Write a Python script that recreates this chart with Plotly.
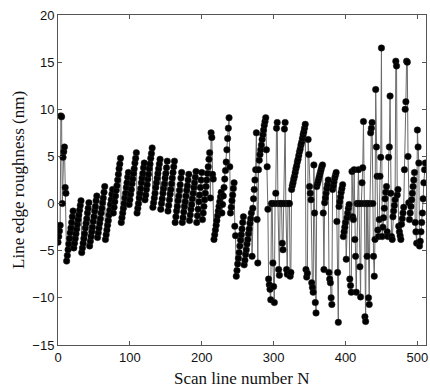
import plotly.graph_objects as go

# Scan line 0-11: initial jump region
seg_start = [-4.1, -3.5, -2.9, -2.3, 9.3, 9.2, 0.0, 4.9, 5.5, 6.0, 1.7, 1.1]

# Regular sawtooth ramps (scan lines 12-211)
ramps_a = [
    -6.1, -5.5, -4.9, -4.3, -3.7, -3.1, -2.6, -2.0, -1.4, -0.8,
    -4.7, -4.2, -3.7, -3.2, -2.7, -2.2, -1.7, -1.2, -0.7, -0.2, 0.3,
    -5.2, -4.7, -4.2, -3.7, -3.2, -2.6, -2.1, -1.6, -1.0, -0.5, 0.1,
    -4.5, -4.0, -3.5, -3.0, -2.5, -1.9, -1.4, -0.8, -0.3, 0.3, 0.8,
    -3.6, -3.1, -2.6, -2.1, -1.6, -1.0, -0.5, 0.1, 0.6, 1.2, 1.8,
    -3.8, -3.3, -2.8, -2.3, -1.8, -1.2, -0.7, -0.1, 0.4, 1.0, 1.5,
    -1.0, -0.4, 0.2, 0.8, 1.4, 1.9, 2.5, 3.1, 3.7, 4.2, 4.8,
    -2.0, -1.5, -1.0, -0.5, 0.0, 0.6, 1.1, 1.7, 2.2, 2.8, 3.3,
    -0.1, 0.4, 1.0, 1.5, 2.1, 2.6, 3.2, 3.7, 4.3, 4.8, 5.4,
    -1.0, -0.5, 0.0, 0.6, 1.1, 1.6, 2.2, 2.7, 3.2, 3.8, 4.3,
    0.4, 0.9, 1.5, 2.0, 2.6, 3.1, 3.7, 4.2, 4.8, 5.3, 5.9,
    -0.4, 0.1, 0.6, 1.1, 1.7, 2.2, 2.7, 3.2, 3.7, 4.2, 4.7,
    -0.6, 0.0, 0.5, 1.1, 1.6, 2.1, 2.7, 3.2, 3.8, 4.5,
    -0.8, -0.2, 0.4, 1.0, 1.5, 2.1, 2.7, 3.3, 3.9, 4.5,
    -2.0, -1.4, -0.8, -0.3, 0.3, 0.8, 1.4, 2.0, 2.7, 3.3,
    -2.0, -1.5, -0.9, -0.3, 0.2, 0.8, 1.4, 1.9, 2.5, 3.1,
    -1.8, -1.2, -0.6, -0.1, 0.5, 1.1, 1.7, 2.2, 2.8, 3.4,
    -2.0, -1.3, -0.6, 0.2, 0.9, 1.7, 2.5, 3.3,
    -1.7, -1.0, -0.3, 0.4, 1.1, 1.8, 2.5, 3.2, 3.9, 4.7, 5.4,
]

# Transition region (scan lines 212-296)
seg_mid = [
    0.6, 7.5, 7.0, 3.1, 2.6,
    -3.8, -3.3, -2.8, -2.3, -1.8, -1.3, -0.8, -0.3, 0.2, 0.7, 1.2,
    -1.0, -0.1, 0.8, 1.7, 2.6, 3.5, 4.4, 5.7, 6.9, 8.0, 9.1,
    3.9,
    -1.0, -0.4, 0.3, 0.9, 1.6, 2.2,
    -2.4, -3.4,
    -7.7, -7.1, -6.4, -5.8, -5.2, -4.5, -3.9, -3.3, -2.7, -2.0, -1.4,
    -6.5, -6.0, -5.4, -4.9, -4.3, -3.8, -3.2, -2.7, -2.1, -1.6, -1.0,
    -5.6, -0.5, 0.5, 1.5, 2.5, 3.6, 7.5, -1.7, -6.3, 3.6,
    4.6, 5.2, 5.7, 6.2, 6.8, 7.3, 7.8, 8.3, 8.7, 9.1,
    5.7, 3.9, -0.6, -8.0, -8.6, -9.1, -10.2,
]

# First zero-filled region (scan lines 297-344)
seg_zero1 = [
    0.0, 0.0, -6.3, -8.8, -10.5, 0.0, 1.1, 8.0, 8.6, 0.0, -7.0, -7.6, 0.0,
    0.0, 0.0, -4.2, -4.9, 0.0, 7.9, 8.6, 0.0, -7.0, -7.5, 0.0, 0.0, 0.0,
    -7.7, -7.3,
    1.5, 1.9, 2.2, 2.6, 2.9, 3.3, 3.7, 4.0, 4.4, 4.7, 5.1, 5.5, 5.8, 6.2,
    6.5, 6.9, 7.3, 7.6, 8.0, 8.4,
]

# Irregular region (scan lines 345-408)
seg_irreg = [
    -7.0, -7.8, -7.4, 6.8, 5.2, 1.8, 1.1, 0.4, -8.4, -8.9, -9.4, 4.1, -1.0,
    -10.5, -11.6, 1.8, 2.1, 2.4, 2.7, 3.0, 3.3, 3.6, 3.9, 4.1, -1.0, -7.0,
    0.1, 0.6, 1.1, 1.6, 2.0, 2.5, -7.3, -8.0, -8.4, -10.0, -10.7, 1.5, 1.9,
    2.3, 2.7, 3.0, 3.3, -1.9, -7.3, -12.6, -0.3, 0.2, 0.7, 1.2, 1.6, 2.0,
    -3.5, -3.0, -2.5, -2.0, -5.9, -1.5, -1.0, -0.5, -0.1, -8.0, -8.7, -9.4,
]

# Second zero-filled region (scan lines 409-440)
seg_zero2 = [
    3.4, -1.4, -1.7, 3.6, -3.8, -5.6, -9.4, 0.0, 0.0, 3.6, 0.0, -6.7, -9.9,
    0.0, 2.2, 3.8, 8.7, 0.0, -12.0, -12.5, 0.0, -5.6, 0.0, -10.0, -10.7,
    0.0, 7.5, 8.0, 8.6, 0.0, -5.6, -7.7,
]

# Final region with large spikes (scan lines 441-511)
seg_end = [
    -3.8, 12.1, 6.0, 2.9, -2.8, -3.5, -1.7, 2.9, 4.9, 16.5, -3.5, -2.5,
    -1.5, -0.5, 0.5, 1.2, 1.8, -3.0, -3.5, 4.9, 6.0, 11.4, 1.1, -3.5, -3.8,
    -1.4, -0.8, -0.2, 0.4, 15.1, 14.6, 0.9, 1.5, -2.4, -3.0, -3.4, -3.8,
    -2.2, -1.6, -1.0, -0.4, 3.6, 10.0, 10.8, 15.1, 15.0, 5.0, 0.1, -1.7,
    -1.0, -0.3, 0.4, 1.1, 1.8, 2.5, 3.3, -2.0, -3.0, -4.2, 7.8, 6.0, 4.3,
    -4.5, -4.0, -3.0, -2.0, -1.0, 0.5, 2.2, 3.6, 4.3,
]

roughness = seg_start + ramps_a + seg_mid + seg_zero1 + seg_irreg + seg_zero2 + seg_end
scan = list(range(len(roughness)))

x_ticks = [0, 100, 200, 300, 400, 500]
y_ticks = [-15, -10, -5, 0, 5, 10, 15, 20]

fig = go.Figure()
fig.add_trace(go.Scatter(
    x=scan, y=roughness, mode="lines+markers",
    line=dict(color="#6a6a6a", width=1),
    marker=dict(color="black", size=6.5, line=dict(color="#222222", width=0.5)),
    showlegend=False,
))

axis_common = dict(
    showgrid=False, zeroline=False, showline=True, mirror="ticks",
    linecolor="#555555", linewidth=1, ticks="inside", ticklen=4,
    tickcolor="#555555", automargin=False, ticklabeloverflow="allow",
    tickfont=dict(family="Liberation Sans, Arial", size=13, color="#111111"),
)

title_font = dict(family="Liberation Serif, Times New Roman", size=17, color="#111111")

fig.update_layout(
    width=430, height=390,
    margin=dict(l=58, r=4, t=15, b=45),
    paper_bgcolor="white", plot_bgcolor="white",
    xaxis=dict(range=[0, 512], tickvals=x_ticks, **axis_common),
    yaxis=dict(range=[-15, 20], tickvals=y_ticks, **axis_common),
    annotations=[
        dict(text="Scan line number N", xref="paper", yref="paper",
             x=0.5, y=-0.1, xanchor="center", yanchor="middle",
             showarrow=False, font=title_font),
        dict(text="Line edge roughness (nm)", xref="paper", yref="paper",
             x=-0.109, y=0.5, xanchor="center", yanchor="middle",
             textangle=-90, showarrow=False, font=title_font),
    ],
)

# Remove the default page margin so the 430x390 figure fills the window.
fig.write_html(
    "out.html",
    config={"displayModeBar": False, "staticPlot": True},
    post_script="document.body.style.margin='0';document.body.style.overflow='hidden';",
)
